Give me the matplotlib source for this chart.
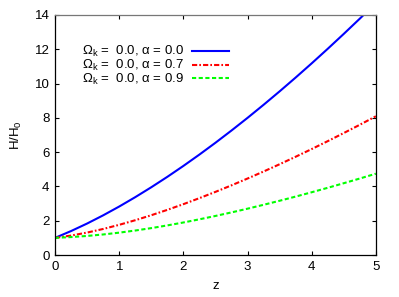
import matplotlib
matplotlib.use("Agg")
import matplotlib.pyplot as plt

plt.rcParams['font.family'] = ['Liberation Sans', 'DejaVu Sans']
plt.rcParams['mathtext.fontset'] = 'custom'
plt.rcParams['mathtext.rm'] = 'Liberation Sans'
plt.rcParams['mathtext.it'] = 'Liberation Sans:italic'

z = [0.0, 0.25, 0.5, 0.75, 1.0, 1.25, 1.5, 1.75, 2.0, 2.25, 2.5, 2.75,
     3.0, 3.25, 3.5, 3.75, 4.0, 4.25, 4.5, 4.75, 5.0]
h_alpha00 = [1.000, 1.398, 1.837, 2.315, 2.828, 3.375, 3.953, 4.560, 5.196,
             5.859, 6.548, 7.262, 8.000, 8.762, 9.546, 10.352, 11.180,
             12.029, 12.899, 13.788, 14.697]
h_alpha07 = [1.000, 1.134, 1.309, 1.519, 1.761, 2.029, 2.321, 2.634, 2.966,
             3.317, 3.683, 4.064, 4.461, 4.871, 5.295, 5.732, 6.181, 6.642,
             7.115, 7.598, 8.093]
h_alpha09 = [1.000, 1.047, 1.112, 1.198, 1.304, 1.428, 1.569, 1.726, 1.897,
             2.082, 2.278, 2.485, 2.702, 2.929, 3.164, 3.408, 3.661, 3.920,
             4.188, 4.462, 4.743]
labels = [r'Ω$_{\mathrm{k}}$ =  0.0, α = 0.0',
          r'Ω$_{\mathrm{k}}$ =  0.0, α = 0.7',
          r'Ω$_{\mathrm{k}}$ =  0.0, α = 0.9']
xticks = [0, 1, 2, 3, 4, 5]
yticks = [0, 2, 4, 6, 8, 10, 12, 14]

fig = plt.figure(figsize=(3.99, 2.97), dpi=100)
ax = fig.add_axes([0.138, 0.1414, 0.804, 0.8081])

ax.plot(z, h_alpha00, color='#0000ff', lw=1.5, label=labels[0])
ax.plot(z, h_alpha07, color='#ff0000', lw=1.5, dashes=(2.5, 1.0, 0.8, 1.0), label=labels[1])
ax.plot(z, h_alpha09, color='#00ff00', lw=1.5, dashes=(2.0, 1.2), label=labels[2])

ax.set_xlim(0, 5)
ax.set_ylim(0, 14)
ax.set_xticks(xticks)
ax.set_yticks(yticks)
ax.tick_params(direction='in', length=3, width=0.8, top=True, right=True,
               labelsize=9.5, pad=4)
for s in ax.spines.values():
    s.set_linewidth(0.9)
ax.spines['top'].set_color('#777777')

ax.set_xlabel('z', fontsize=9.5, labelpad=5)
ax.set_ylabel('H/H$_0$', fontsize=9.5, labelpad=8)

leg = ax.legend(loc='upper left', bbox_to_anchor=(0.054, 0.916), frameon=False,
                markerfirst=False, fontsize=9.5, handlelength=2.8,
                handletextpad=0.6, labelspacing=-0.1, borderaxespad=0.3)

fig.savefig('out.png', dpi=100)
